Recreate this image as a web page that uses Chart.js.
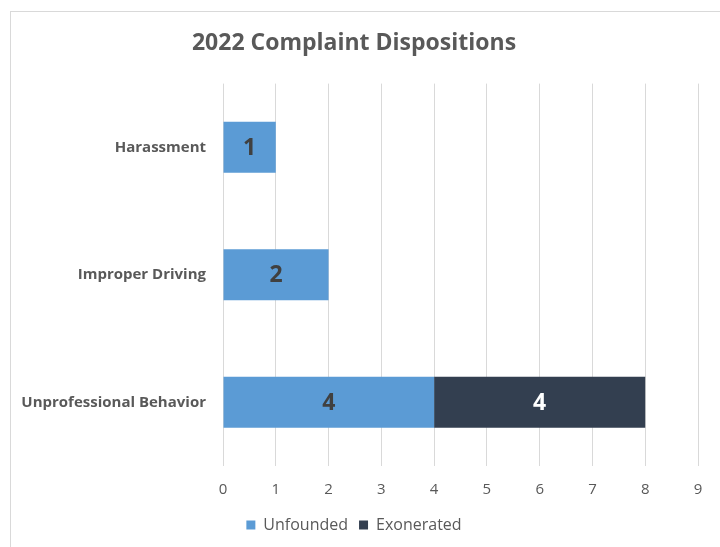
<!DOCTYPE html>
<html>
<head>
<meta charset="utf-8">
<script src="https://cdn.jsdelivr.net/npm/chart.js@4"></script>
<style>
  html, body { margin: 0; padding: 0; background: #ffffff; }
  #wrap { width: 720px; height: 547px; position: relative; }
</style>
</head>
<body>
<div id="wrap"><canvas id="c" width="720" height="547"></canvas></div>
<script>
const categories = ["Harassment", "Improper Driving", "Unprofessional Behavior"];
const unfounded = [1, 2, 4];
const exonerated = [0, 0, 4];
const xTicks = [0, 1, 2, 3, 4, 5, 6, 7, 8, 9];
const chartTitle = "2022 Complaint Dispositions";

const FONT = "'Open Sans', 'Noto Sans', sans-serif";

const frame = {
  id: 'frame',
  beforeDraw(chart) {
    const ctx = chart.ctx;
    ctx.save();
    ctx.fillStyle = '#ffffff';
    ctx.fillRect(0, 0, chart.width, chart.height);
    ctx.strokeStyle = '#d9d9d9';
    ctx.lineWidth = 1;
    ctx.strokeRect(10.5, 11.5, 800, 600);
    ctx.restore();
  }
};

const valueLabels = {
  id: 'valueLabels',
  afterDatasetsDraw(chart) {
    const ctx = chart.ctx;
    ctx.save();
    ctx.font = "bold 23px " + FONT;
    ctx.textAlign = 'center';
    ctx.textBaseline = 'middle';
    chart.data.datasets.forEach((ds, di) => {
      const meta = chart.getDatasetMeta(di);
      meta.data.forEach((bar, i) => {
        const v = ds.data[i];
        if (!v) return;
        const cx = (bar.x + bar.base) / 2;
        ctx.fillStyle = ds.labelColor;
        ctx.fillText(String(v), cx, bar.y + 1);
      });
    });
    ctx.restore();
  }
};

new Chart(document.getElementById('c'), {
  type: 'bar',
  data: {
    labels: categories,
    datasets: [
      { label: 'Unfounded', data: unfounded, backgroundColor: '#5b9bd5', labelColor: '#404040',
        categoryPercentage: 1, barPercentage: 0.4 },
      { label: 'Exonerated', data: exonerated, backgroundColor: '#333f50', labelColor: '#ffffff',
        categoryPercentage: 1, barPercentage: 0.4 }
    ]
  },
  options: {
    indexAxis: 'y',
    responsive: false,
    animation: false,
    devicePixelRatio: 1,
    layout: { padding: { top: 19, right: 22, left: 10, bottom: 4 } },
    plugins: {
      title: {
        display: true, text: chartTitle, color: '#595959',
        font: { family: FONT, size: 23, weight: 'bold' },
        padding: { top: 11, bottom: 26 }
      },
      legend: {
        position: 'bottom',
        labels: {
          color: '#595959',
          font: { family: FONT, size: 16, weight: '500' },
          boxWidth: 9, boxHeight: 9, padding: 11
        }
      },
      tooltip: { enabled: false }
    },
    scales: {
      x: {
        stacked: true, min: 0, max: 9,
        afterBuildTicks(scale) { scale.ticks = xTicks.map(v => ({ value: v })); },
        afterFit(scale) { scale.height = 40; },
        grid: { color: '#d9d9d9', drawTicks: false },
        border: { display: false },
        ticks: { color: '#595959', font: { family: FONT, size: 15 }, padding: 15 }
      },
      y: {
        stacked: true,
        afterFit(scale) { scale.width = 213; },
        grid: { display: false, drawTicks: false },
        border: { display: false },
        ticks: { color: '#595959', font: { family: FONT, size: 15, weight: 'bold' }, padding: 17 }
      }
    }
  },
  plugins: [frame, valueLabels]
});
</script>
</body>
</html>
